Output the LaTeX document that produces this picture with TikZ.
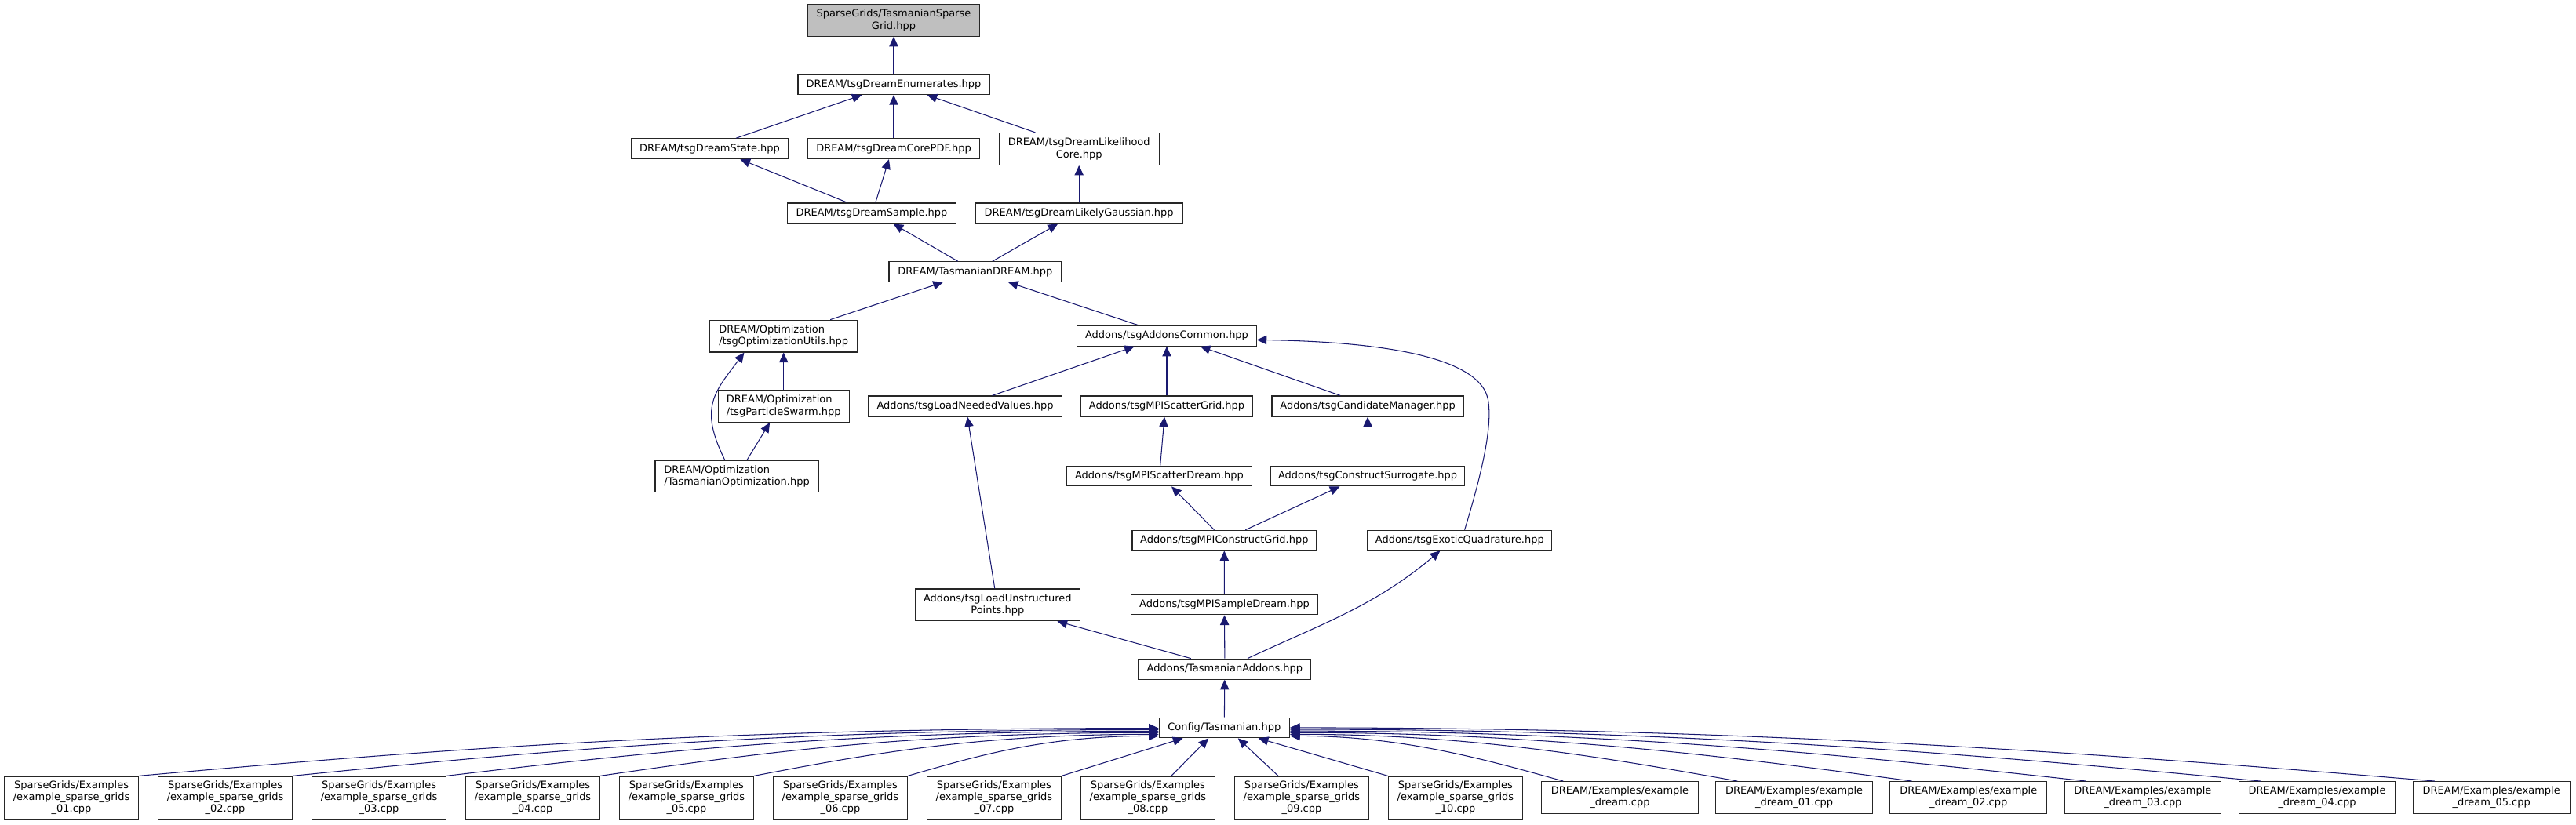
\documentclass[tikz,border=0pt]{standalone}
\usepackage{fontspec}
\setmainfont{DejaVu Sans}
\usetikzlibrary{arrows.meta,calc}
\definecolor{edgec}{HTML}{191970}
\definecolor{nodegray}{HTML}{BFBFBF}
\tikzset{
  box/.style={draw=black!85, fill=white, line width=0.55pt, rectangle, inner sep=0pt,
    font=\fontsize{6.2}{7.3}\selectfont, align=center},
  lbox/.style={box, align=left},
  sz/.style 2 args={minimum width=#1pt, minimum height=#2pt},
  edge/.style={draw=edgec, line width=0.5pt, -{Triangle[length=6pt,width=5.4pt]}},
}
\begin{document}
\begin{tikzpicture}[x=1pt,y=1pt]
\useasboundingbox (0,0) rectangle (1568,-502);
\fill[white] (0,0) rectangle (1568,-502);

\node[box, sz={104.7}{19.3}, fill=nodegray] (sg) at (544,-12.4) {SparseGrids/TasmanianSparse\\Grid.hpp};
\node[box, sz={116.5}{12.2}] (enum) at (544,-51.5) {DREAM/tsgDreamEnumerates.hpp};
\node[box, sz={95.4}{12.3}] (state) at (432,-90.6) {DREAM/tsgDreamState.hpp};
\node[box, sz={104.9}{12.3}] (corepdf) at (544,-90.6) {DREAM/tsgDreamCorePDF.hpp};
\node[box, sz={97.5}{19.5}] (likecore) at (656.8,-90.7) {DREAM/tsgDreamLikelihood\\Core.hpp};
\node[box, sz={102.5}{12.4}] (sample) at (530.6,-129.9) {DREAM/tsgDreamSample.hpp};
\node[box, sz={126.1}{12.4}] (likegauss) at (656.8,-129.9) {DREAM/tsgDreamLikelyGaussian.hpp};
\node[box, sz={105}{12.2}] (tdream) at (593.6,-165.5) {DREAM/TasmanianDREAM.hpp};
\node[lbox, sz={90}{19.5}] (optutils) at (477,-204.7) {DREAM/Optimization\\/tsgOptimizationUtils.hpp};
\node[box, sz={109}{12.3}] (common) at (710.2,-204.6) {Addons/tsgAddonsCommon.hpp};
\node[lbox, sz={79.7}{19.6}] (pswarm) at (477,-247.3) {DREAM/Optimization\\/tsgParticleSwarm.hpp};
\node[box, sz={117.7}{12.4}] (loadneed) at (587.5,-247.4) {Addons/tsgLoadNeededValues.hpp};
\node[box, sz={104.5}{12.4}] (scatgrid) at (710.2,-247.4) {Addons/tsgMPIScatterGrid.hpp};
\node[box, sz={116.6}{12.4}] (candman) at (832.5,-247.4) {Addons/tsgCandidateManager.hpp};
\node[lbox, sz={99.4}{19.2}] (tasopt) at (448.5,-290) {DREAM/Optimization\\/TasmanianOptimization.hpp};
\node[box, sz={112.9}{11.9}] (scatdream) at (705.6,-290.1) {Addons/tsgMPIScatterDream.hpp};
\node[box, sz={118}{11.9}] (constsurr) at (832.5,-290.1) {Addons/tsgConstructSurrogate.hpp};
\node[box, sz={112.1}{12.2}] (mpicgrid) at (745.2,-329.1) {Addons/tsgMPIConstructGrid.hpp};
\node[box, sz={112}{12.2}] (exotic) at (888.5,-329.1) {Addons/tsgExoticQuadrature.hpp};
\node[box, sz={100.2}{19.4}] (loadunstr) at (607.2,-368.4) {Addons/tsgLoadUnstructured\\Points.hpp};
\node[box, sz={113.9}{12.2}] (mpisample) at (745.3,-368.3) {Addons/tsgMPISampleDream.hpp};
\node[box, sz={105}{12.4}] (tasaddons) at (745.5,-407.5) {Addons/TasmanianAddons.hpp};
\node[box, sz={79.4}{12.3}] (config) at (745.2,-443.2) {Config/Tasmanian.hpp};

\foreach \i/\nn in {1/01,2/02,3/03,4/04,5/05,6/06,7/07,8/08,9/09,10/10}
  \node[box, sz={81.8}{26}] (s\i) at ({43.5+(\i-1)*93.6},-485.8) {SparseGrids/Examples\\/example\_sparse\_grids\\\_\nn.cpp};
\node[box, sz={95.5}{19.4}] (d0) at (986,-485.7) {DREAM/Examples/example\\\_dream.cpp};
\foreach \j/\nn in {1/01,2/02,3/03,4/04,5/05}
  \node[box, sz={95.5}{19.4}] (d\j) at ({986+\j*106.1},-485.7) {DREAM/Examples/example\\\_dream\_\nn.cpp};

% upper part
\draw[edge] (enum) -- (sg);
\draw[edge] ([xshift=16pt]state.north) -- ([xshift=-19.4pt]enum.south);
\draw[edge] (corepdf) -- (enum);
\draw[edge] ([xshift=-26.6pt]likecore.north) -- ([xshift=20.4pt]enum.south);
\draw[edge] ([xshift=-14.7pt]sample.north) -- ([xshift=18.6pt]state.south);
\draw[edge] ([xshift=2.3pt]sample.north) -- ([xshift=-2.9pt]corepdf.south);
\draw[edge] (likegauss) -- (likecore);
\draw[edge] ([xshift=-10.6pt]tdream.north) -- ([xshift=13.2pt]sample.south);
\draw[edge] ([xshift=10.5pt]tdream.north) -- ([xshift=-12.9pt]likegauss.south);
\draw[edge] ([xshift=28.4pt]optutils.north) -- ([xshift=-19.6pt]tdream.south);
\draw[edge] ([xshift=-17pt]common.north) -- ([xshift=20.1pt]tdream.south);
\draw[edge] (pswarm) -- (optutils);
\draw[edge] ([xshift=-7.3pt]tasopt.north) .. controls +(-16,32) and +(-18,-24) .. ([xshift=-24pt]optutils.south);
\draw[edge] ([xshift=6.2pt]tasopt.north) -- ([xshift=-8.4pt]pswarm.south);
\draw[edge] ([xshift=16.4pt]loadneed.north) -- ([xshift=-19.7pt]common.south);
\draw[edge] (scatgrid) -- (common);
\draw[edge] ([xshift=-16.6pt]candman.north) -- ([xshift=20.5pt]common.south);
\draw[edge] ([xshift=3pt]exotic.north) .. controls (903,-285) and (908,-260) .. (906,-245)
   .. controls (903,-215) and (830,-208) .. ([yshift=-2.4pt]common.east);
\draw[edge] ([xshift=0.6pt]scatdream.north) -- ([xshift=-1.4pt]scatgrid.south);
\draw[edge] (constsurr) -- (candman);
\draw[edge] ([xshift=-6.1pt]mpicgrid.north) -- ([xshift=7.5pt]scatdream.south);
\draw[edge] ([xshift=12.9pt]mpicgrid.north) -- ([xshift=-17pt]constsurr.south);
\draw[edge] ([xshift=-1.7pt]loadunstr.north) -- ([xshift=1.4pt]loadneed.south);
\draw[edge] (mpisample) -- (mpicgrid);
\draw[edge] ([xshift=13.9pt]tasaddons.north) to[out=25,in=-140] ([xshift=-11.9pt]exotic.south);
\draw[edge] ([xshift=-20.6pt]tasaddons.north) -- ([xshift=36.4pt]loadunstr.south);
\draw[edge] (tasaddons) -- (mpisample);
\draw[edge] (config) -- (tasaddons);

% bottom fan, left
\draw[edge] (s1.north east) .. controls +(173.9,15.4) and +(-279.5,0) .. ([yshift=-0.3pt]config.west);
\draw[edge] (s2.north east) .. controls +(147.7,14.9) and +(-237.4,0) .. ([yshift=-1.2pt]config.west);
\draw[edge] (s3.north east) .. controls +(121.5,14.4) and +(-195.3,0) .. ([yshift=-2.1pt]config.west);
\draw[edge] (s4.north east) .. controls +(95.3,13.9) and +(-153.1,0) .. ([yshift=-3pt]config.west);
\draw[edge] (s5.north east) .. controls +(69.1,13.3) and +(-111,0) .. ([yshift=-4pt]config.west);
\draw[edge] (s6.north east) .. controls +(42.9,12.5) and +(-68.9,0) .. ([yshift=-5pt]config.west);
\draw[edge] (s7.north east) -- ([xshift=-25.2pt]config.south);
\draw[edge] ([xshift=14.3pt]s8.north) -- ([xshift=-9.6pt]config.south);
\draw[edge] ([xshift=-14.3pt]s9.north) -- ([xshift=8.4pt]config.south);
\draw[edge] (s10.north west) -- ([xshift=20.8pt]config.south);

% bottom fan, right
\draw[edge] ([xshift=13.5pt]d0.north west) .. controls +(-50,14) and +(66.7,0) .. ([yshift=-5pt]config.east);
\draw[edge] ([xshift=13.5pt]d1.north west) .. controls +(-81.9,14.7) and +(109.2,0) .. ([yshift=-4pt]config.east);
\draw[edge] ([xshift=13.5pt]d2.north west) .. controls +(-113.7,15.4) and +(151.6,0) .. ([yshift=-3pt]config.east);
\draw[edge] ([xshift=13.5pt]d3.north west) .. controls +(-145.5,16.1) and +(194,0) .. ([yshift=-2pt]config.east);
\draw[edge] ([xshift=13.5pt]d4.north west) .. controls +(-177.4,16.8) and +(236.5,0) .. ([yshift=-1pt]config.east);
\draw[edge] ([xshift=13.5pt]d5.north west) .. controls +(-209.2,17.4) and +(278.9,0) .. ([yshift=0pt]config.east);
\end{tikzpicture}
\end{document}
